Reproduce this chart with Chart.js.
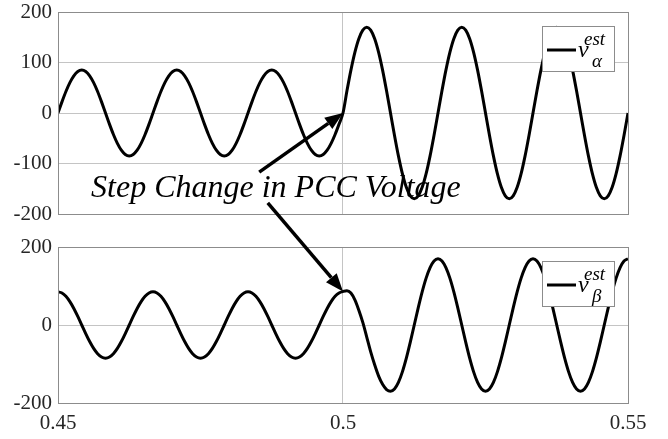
<!DOCTYPE html>
<html>
<head>
<meta charset="utf-8">
<script src="https://cdn.jsdelivr.net/npm/chart.js@4.4.1/dist/chart.umd.min.js"></script>
<style>
  html, body { margin: 0; padding: 0; background: #fff; }
  #wrap { position: relative; width: 668px; height: 439px; }
  #wrap canvas { position: absolute; left: 0; top: 0; }
</style>
</head>
<body>
<div id="wrap">
  <canvas id="alphaPlot" width="668" height="439"></canvas>
  <canvas id="betaPlot" width="668" height="439"></canvas>
</div>
<script>
// estimator output, sampled 24 times per 60 Hz cycle from t = 0.45 s
var tStart = 0.45;
var sampleStep = 1 / 1440;

var vAlpha = [
  0, 22, 42.5, 60.1, 73.6, 82.1, 85, 82.1, 73.6, 60.1, 42.5, 22,
  0, -22, -42.5, -60.1, -73.6, -82.1, -85, -82.1, -73.6, -60.1, -42.5, -22,
  0, 22, 42.5, 60.1, 73.6, 82.1, 85, 82.1, 73.6, 60.1, 42.5, 22,
  0, -22, -42.5, -60.1, -73.6, -82.1, -85, -82.1, -73.6, -60.1, -42.5, -22,
  0, 22, 42.5, 60.1, 73.6, 82.1, 85, 82.1, 73.6, 60.1, 42.5, 22,
  0, -22, -42.5, -60.1, -73.6, -82.1, -85, -82.1, -73.6, -60.1, -42.5, -22,
  0, 44, 85, 120.2, 147.2, 164.2, 170, 164.2, 147.2, 120.2, 85, 44,
  0, -44, -85, -120.2, -147.2, -164.2, -170, -164.2, -147.2, -120.2, -85, -44,
  0, 44, 85, 120.2, 147.2, 164.2, 170, 164.2, 147.2, 120.2, 85, 44,
  0, -44, -85, -120.2, -147.2, -164.2, -170, -164.2, -147.2, -120.2, -85, -44,
  0, 44, 85, 120.2, 147.2, 164.2, 170, 164.2, 147.2, 120.2, 85, 44,
  0, -44, -85, -120.2, -147.2, -164.2, -170, -164.2, -147.2, -120.2, -85, -44,
  0
];

var vBeta = [
  85, 82.1, 73.6, 60.1, 42.5, 22, 0, -22, -42.5, -60.1, -73.6, -82.1,
  -85, -82.1, -73.6, -60.1, -42.5, -22, 0, 22, 42.5, 60.1, 73.6, 82.1,
  85, 82.1, 73.6, 60.1, 42.5, 22, 0, -22, -42.5, -60.1, -73.6, -82.1,
  -85, -82.1, -73.6, -60.1, -42.5, -22, 0, 22, 42.5, 60.1, 73.6, 82.1,
  85, 82.1, 73.6, 60.1, 42.5, 22, 0, -22, -42.5, -60.1, -73.6, -82.1,
  -85, -82.1, -73.6, -60.1, -42.5, -22, 0, 22, 42.5, 60.1, 73.6, 82.1,
  86, 88, 82, 64.5, 38, 6.6, -31, -69, -102, -131, -152, -165.5,
  -170, -164.2, -147.2, -120.2, -85, -44, 0, 44, 85, 120.2, 147.2, 164.2,
  170, 164.2, 147.2, 120.2, 85, 44, 0, -44, -85, -120.2, -147.2, -164.2,
  -170, -164.2, -147.2, -120.2, -85, -44, 0, 44, 85, 120.2, 147.2, 164.2,
  170, 164.2, 147.2, 120.2, 85, 44, 0, -44, -85, -120.2, -147.2, -164.2,
  -170, -164.2, -147.2, -120.2, -85, -44, 0, 44, 85, 120.2, 147.2, 164.2,
  170
];

var xTicks = [0.45, 0.5, 0.55];
var xTickLabels = ['0.45', '0.5', '0.55'];
var yTicksAlpha = [-200, -100, 0, 100, 200];
var yTicksBeta = [-200, 0, 200];
var seriesSubs = ['\u03B1', '\u03B2'];

var stepTime = 0.5;
var noteText = 'Step Change in PCC Voltage';
var noteAt = [0.4558, -166];
var arrowFromAlpha = [0.4853, -117];
var arrowFromBeta = [0.4868, -178];

var serif = '"Liberation Serif", "Times New Roman", serif';
var frameColor = '#8c8c8c';
var gridColor = '#c4c4c4';

function toPoints(values) {
  return values.map(function (v, k) { return { x: tStart + k * sampleStep, y: v }; });
}

// box around the axes plus a small MATLAB-like legend in the upper right
var frameLegend = {
  id: 'frameLegend',
  afterDatasetsDraw: function (chart, args, opts) {
    var ctx = chart.ctx, a = chart.chartArea;
    ctx.save();
    ctx.strokeStyle = frameColor;
    ctx.lineWidth = 1;
    ctx.strokeRect(Math.round(a.left) + 0.5, Math.round(a.top) + 0.5,
      Math.round(a.right - a.left), Math.round(a.bottom - a.top));

    var w = 72, h = 45;
    var x = Math.round(a.right) - 14 - w, y = Math.round(a.top) + 14;
    ctx.fillStyle = '#fff';
    ctx.fillRect(x, y, w, h);
    ctx.strokeRect(x + 0.5, y + 0.5, w, h);

    var ds = chart.data.datasets[0];
    ctx.strokeStyle = ds.borderColor;
    ctx.lineWidth = ds.borderWidth;
    ctx.beginPath();
    ctx.moveTo(x + 5, y + 24);
    ctx.lineTo(x + 34, y + 24);
    ctx.stroke();

    ctx.fillStyle = '#000';
    ctx.textAlign = 'left';
    ctx.textBaseline = 'alphabetic';
    ctx.font = 'italic 24px ' + serif;
    ctx.fillText('v', x + 36, y + 31);
    ctx.font = 'italic 19px ' + serif;
    ctx.fillText('est', x + 42, y + 19);
    ctx.fillText(opts.sub, x + 50, y + 41);
    ctx.restore();
  }
};

function drawArrow(ctx, x0, y0, x1, y1) {
  var ang = Math.atan2(y1 - y0, x1 - x0);
  var head = 18, half = 7;
  var bx = x1 - head * Math.cos(ang), by = y1 - head * Math.sin(ang);
  ctx.beginPath();
  ctx.moveTo(x0, y0);
  ctx.lineTo(bx, by);
  ctx.stroke();
  ctx.beginPath();
  ctx.moveTo(x1, y1);
  ctx.lineTo(bx + half * Math.sin(ang), by - half * Math.cos(ang));
  ctx.lineTo(bx - half * Math.sin(ang), by + half * Math.cos(ang));
  ctx.closePath();
  ctx.fill();
}

var alphaChart;

// caption and the two arrows pointing at the step instant
var stepNote = {
  id: 'stepNote',
  afterDraw: function (chart) {
    var ctx = chart.ctx;
    var ax = alphaChart.scales.x, ay = alphaChart.scales.y;
    var bx = chart.scales.x, by = chart.scales.y;
    var k = Math.round((stepTime - tStart) / sampleStep);
    ctx.save();
    ctx.fillStyle = '#000';
    ctx.strokeStyle = '#000';
    ctx.lineWidth = 3.5;
    ctx.font = 'italic 32px ' + serif;
    ctx.textAlign = 'left';
    ctx.textBaseline = 'alphabetic';
    ctx.fillText(noteText, ax.getPixelForValue(noteAt[0]), ay.getPixelForValue(noteAt[1]));
    drawArrow(ctx,
      ax.getPixelForValue(arrowFromAlpha[0]), ay.getPixelForValue(arrowFromAlpha[1]),
      ax.getPixelForValue(stepTime), ay.getPixelForValue(vAlpha[k]));
    drawArrow(ctx,
      ax.getPixelForValue(arrowFromBeta[0]), ay.getPixelForValue(arrowFromBeta[1]),
      bx.getPixelForValue(stepTime), by.getPixelForValue(vBeta[k]));
    ctx.restore();
  }
};

function makeConfig(values, yTicks, sub, padTop, padBottom, showX, extraPlugins) {
  return {
    type: 'line',
    data: {
      datasets: [{
        label: 'v' + sub,
        data: toPoints(values),
        borderColor: '#000',
        borderWidth: 3,
        pointRadius: 0,
        fill: false,
        cubicInterpolationMode: 'monotone'
      }]
    },
    options: {
      responsive: false,
      animation: false,
      events: [],
      layout: { padding: { top: padTop, bottom: padBottom, left: 0, right: 40 } },
      scales: {
        x: {
          type: 'linear',
          min: xTicks[0],
          max: xTicks[xTicks.length - 1],
          afterBuildTicks: function (s) { s.ticks = xTicks.map(function (v) { return { value: v }; }); },
          afterFit: function (s) {
            s.height = showX ? 36 : 0;
            s.paddingLeft = 0;
            s.paddingRight = 0;
          },
          ticks: {
            display: showX,
            padding: 10,
            color: '#262626',
            font: { family: serif, size: 21, lineHeight: 1 },
            maxRotation: 0,
            callback: function (v, i) { return xTickLabels[i]; }
          },
          grid: { color: gridColor, drawTicks: false },
          border: { display: false }
        },
        y: {
          min: yTicks[0],
          max: yTicks[yTicks.length - 1],
          afterBuildTicks: function (s) { s.ticks = yTicks.map(function (v) { return { value: v }; }); },
          afterFit: function (s) {
            s.width = 58;
            s.paddingTop = 0;
            s.paddingBottom = 0;
          },
          ticks: {
            padding: 6,
            color: '#262626',
            font: { family: serif, size: 21, lineHeight: 1 },
            callback: function (v) { return String(v); }
          },
          grid: { color: gridColor, drawTicks: false },
          border: { display: false }
        }
      },
      plugins: {
        legend: { display: false },
        tooltip: { enabled: false },
        frameLegend: { sub: sub }
      }
    },
    plugins: [frameLegend].concat(extraPlugins)
  };
}

alphaChart = new Chart(document.getElementById('alphaPlot'),
  makeConfig(vAlpha, yTicksAlpha, seriesSubs[0], 12, 225, false, []));

var betaChart = new Chart(document.getElementById('betaPlot'),
  makeConfig(vBeta, yTicksBeta, seriesSubs[1], 247, 0, true, [stepNote]));
</script>
</body>
</html>
